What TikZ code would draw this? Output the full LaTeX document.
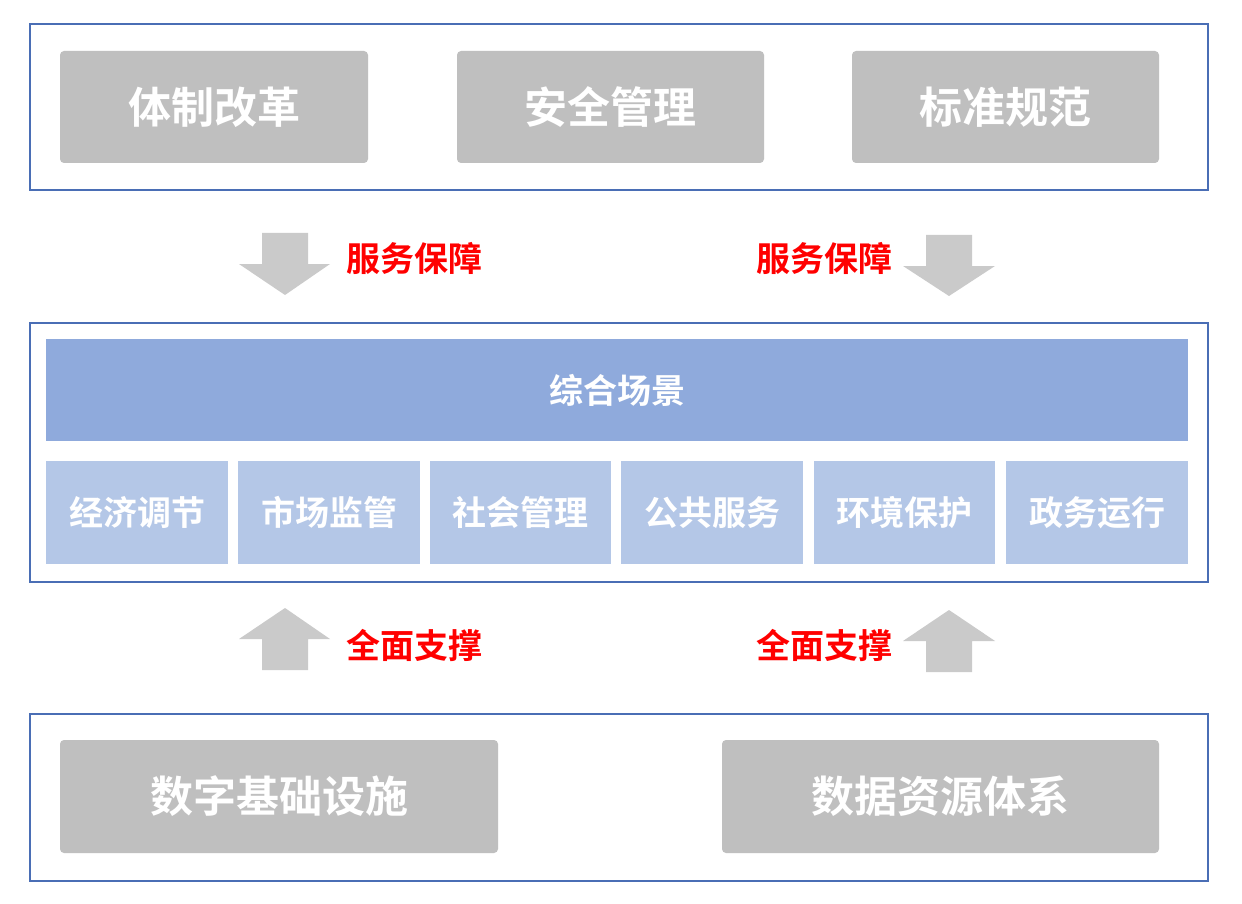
\documentclass[tikz,border=0pt]{standalone}
\usepackage{fontspec}
\newfontfamily\cjk{Noto Sans CJK SC}[BoldFont={Noto Sans CJK SC Bold}]
\definecolor{frameblue}{HTML}{4A6EB5}
\definecolor{boxgray}{HTML}{BFBFBF}
\definecolor{arrowgray}{HTML}{CACACA}
\definecolor{bannerblue}{HTML}{8FAADC}
\definecolor{subblue}{HTML}{B4C7E7}
\definecolor{labelred}{HTML}{FF0000}
\tikzset{
  frame/.style={draw=frameblue, line width=1.2pt},
  graybox/.style={fill=boxgray, rounded corners=4pt, draw=none, text=white,
    font=\cjk\bfseries\fontsize{43}{50}\selectfont},
  banner/.style={fill=bannerblue, draw=none, text=white,
    font=\cjk\bfseries\fontsize{34}{40}\selectfont},
  subbox/.style={fill=subblue, draw=none, text=white,
    font=\cjk\bfseries\fontsize{34}{40}\selectfont},
  redlabel/.style={text=labelred, font=\cjk\bfseries\fontsize{34}{40}\selectfont, inner sep=0pt},
  blockarrow/.style={fill=arrowgray, draw=none}
}
\begin{document}
\begin{tikzpicture}[x=1pt,y=-1pt]
\useasboundingbox (0,0) rectangle (1242,904);
\fill[white] (0,0) rectangle (1242,904);

% top layer
\draw[frame] (30,24) rectangle (1208,190);
\node[graybox, minimum width=308pt, minimum height=112pt] (tzgg) at (214,107) {体制改革};
\node[graybox, minimum width=307pt, minimum height=112pt] (aqgl) at (610.5,107) {安全管理};
\node[graybox, minimum width=307pt, minimum height=112pt] (bzgf) at (1005.5,107) {标准规范};

% down arrows
\fill[blockarrow] (262,233) -- (308,233) -- (308,264) -- (330,264) -- (285,295) -- (239,264) -- (262,264) -- cycle;
\fill[blockarrow] (926,235) -- (972,235) -- (972,266) -- (995,266) -- (949,296) -- (903,266) -- (926,266) -- cycle;
\node[redlabel] (fwbz1) at (414,258) {服务保障};
\node[redlabel] (fwbz2) at (824,258) {服务保障};

% middle layer
\draw[frame] (30,323) rectangle (1208,582);
\node[banner, minimum width=1142pt, minimum height=102pt] (zhcj) at (617,390) {综合场景};
\node[subbox, minimum width=182pt, minimum height=103pt] (s1) at (137,512.5) {经济调节};
\node[subbox, minimum width=182pt, minimum height=103pt] (s2) at (329,512.5) {市场监管};
\node[subbox, minimum width=181pt, minimum height=103pt] (s3) at (520.5,512.5) {社会管理};
\node[subbox, minimum width=182pt, minimum height=103pt] (s4) at (712,512.5) {公共服务};
\node[subbox, minimum width=181pt, minimum height=103pt] (s5) at (904.5,512.5) {环境保护};
\node[subbox, minimum width=182pt, minimum height=103pt] (s6) at (1097,512.5) {政务运行};

% up arrows
\fill[blockarrow] (262,670) -- (308,670) -- (308,639) -- (330,639) -- (285,608) -- (239,639) -- (262,639) -- cycle;
\fill[blockarrow] (926,672) -- (972,672) -- (972,641) -- (995,641) -- (949,610) -- (903,641) -- (926,641) -- cycle;
\node[redlabel] (qmzc1) at (414,645) {全面支撑};
\node[redlabel] (qmzc2) at (824,645) {全面支撑};

% bottom layer
\draw[frame] (30,714) rectangle (1208,881);
\node[graybox, minimum width=438pt, minimum height=113pt] (szjc) at (279,796.5) {数字基础设施};
\node[graybox, minimum width=437pt, minimum height=113pt] (sjzy) at (940.5,796.5) {数据资源体系};
\end{tikzpicture}
\end{document}
